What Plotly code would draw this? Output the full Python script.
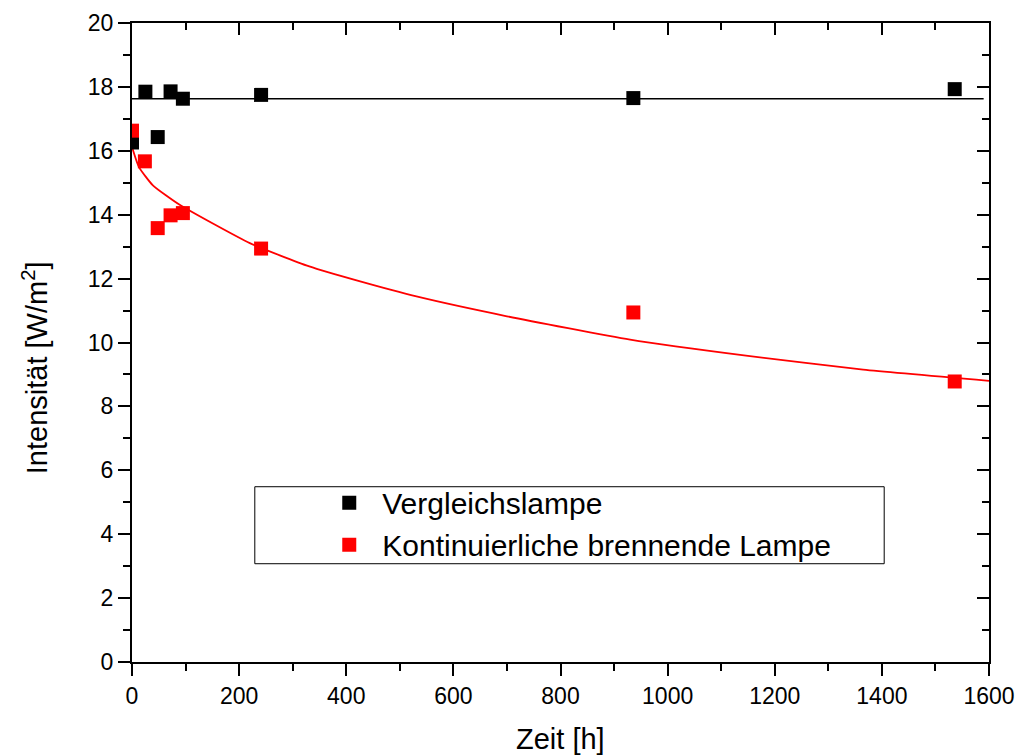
import plotly.graph_objects as go

# Measured intensities over burning time
zeit_ref = [0, 25, 48, 72, 95, 241, 936, 1536]
int_ref = [16.26, 17.85, 16.43, 17.86, 17.63, 17.75, 17.65, 17.93]

zeit_kont = [0, 24, 48, 72, 95, 241, 936, 1536]
int_kont = [16.63, 15.67, 13.58, 13.98, 14.05, 12.94, 10.94, 8.78]

# Fit curves
fit_ref_x = [0, 1590]
fit_ref_y = [17.63, 17.63]

fit_kont_x = [0, 13, 39, 89, 220, 331, 426, 531, 700, 930, 1150, 1365, 1600]
fit_kont_y = [16.12, 15.49, 14.92, 14.31, 13.11, 12.38, 11.91, 11.44, 10.82,
              10.09, 9.58, 9.15, 8.80]

FONT = "Liberation Sans, Arial, sans-serif"

fig = go.Figure()

fig.add_trace(go.Scatter(x=fit_ref_x, y=fit_ref_y, mode="lines",
                         line=dict(color="black", width=1.5), showlegend=False,
                         hoverinfo="skip"))
fig.add_trace(go.Scatter(x=fit_kont_x, y=fit_kont_y, mode="lines",
                         line=dict(color="#ff0000", width=1.8, shape="spline",
                                   smoothing=0.5),
                         showlegend=False, hoverinfo="skip"))
fig.add_trace(go.Scatter(x=zeit_ref, y=int_ref, mode="markers", name="Vergleichslampe",
                         marker=dict(symbol="square", size=14, color="black")))
fig.add_trace(go.Scatter(x=zeit_kont, y=int_kont, mode="markers",
                         name="Kontinuierliche brennende Lampe",
                         marker=dict(symbol="square", size=14, color="#ff0000")))
# carrier for the mirrored top/right axes
fig.add_trace(go.Scatter(x=[None], y=[None], xaxis="x2", yaxis="y2",
                         showlegend=False, hoverinfo="skip"))

axis_common = dict(showgrid=False, zeroline=False, showline=True, linecolor="black",
                   linewidth=2, tickcolor="black", tickwidth=2, ticklen=12,
                   automargin=False)

fig.update_layout(
    width=1020, height=756,
    margin=dict(l=132, r=31, t=23, b=94),
    paper_bgcolor="white", plot_bgcolor="white",
    font=dict(family=FONT, color="black", size=23),
    xaxis=dict(range=[0, 1600], dtick=200, ticks="outside",
               tickfont=dict(size=23),
               minor=dict(dtick=100, ticks="outside", ticklen=7, tickwidth=2,
                          tickcolor="black"),
               **axis_common),
    yaxis=dict(range=[0, 20], dtick=2, ticks="outside",
               tickfont=dict(size=23),
               minor=dict(dtick=1, ticks="outside", ticklen=7, tickwidth=2,
                          tickcolor="black"),
               **axis_common),
    xaxis2=dict(range=[0, 1600], dtick=200, ticks="inside", side="top",
                overlaying="x", anchor="y2", showticklabels=False,
                minor=dict(dtick=100, ticks="inside", ticklen=7, tickwidth=2,
                           tickcolor="black"),
                **axis_common),
    yaxis2=dict(range=[0, 20], dtick=2, ticks="inside", side="right",
                overlaying="y", anchor="x2", showticklabels=False,
                minor=dict(dtick=1, ticks="inside", ticklen=7, tickwidth=2,
                           tickcolor="black"),
                **axis_common),
    legend=dict(x=0.215, y=0.29, xanchor="left", yanchor="top",
                bgcolor="rgba(0,0,0,0)", borderwidth=0,
                font=dict(size=30, family=FONT), itemwidth=56,
                tracegroupgap=0),
    showlegend=True,
    shapes=[dict(type="rect", xref="paper", yref="paper",
                 x0=0.1433, x1=0.8777, y0=0.1538, y1=0.2743,
                 line=dict(color="black", width=1))],
    annotations=[
        dict(text="Zeit [h]", xref="paper", yref="paper", x=0.5, y=-0.12,
             xanchor="center", yanchor="middle", showarrow=False,
             font=dict(size=29, family=FONT)),
        dict(text="Intensität [W/m<sup>2</sup>]", xref="paper", yref="paper",
             x=-0.113, y=0.46, xanchor="center", yanchor="middle",
             textangle=-90, showarrow=False, font=dict(size=29, family=FONT)),
    ],
)

fig.write_html("out.html")
